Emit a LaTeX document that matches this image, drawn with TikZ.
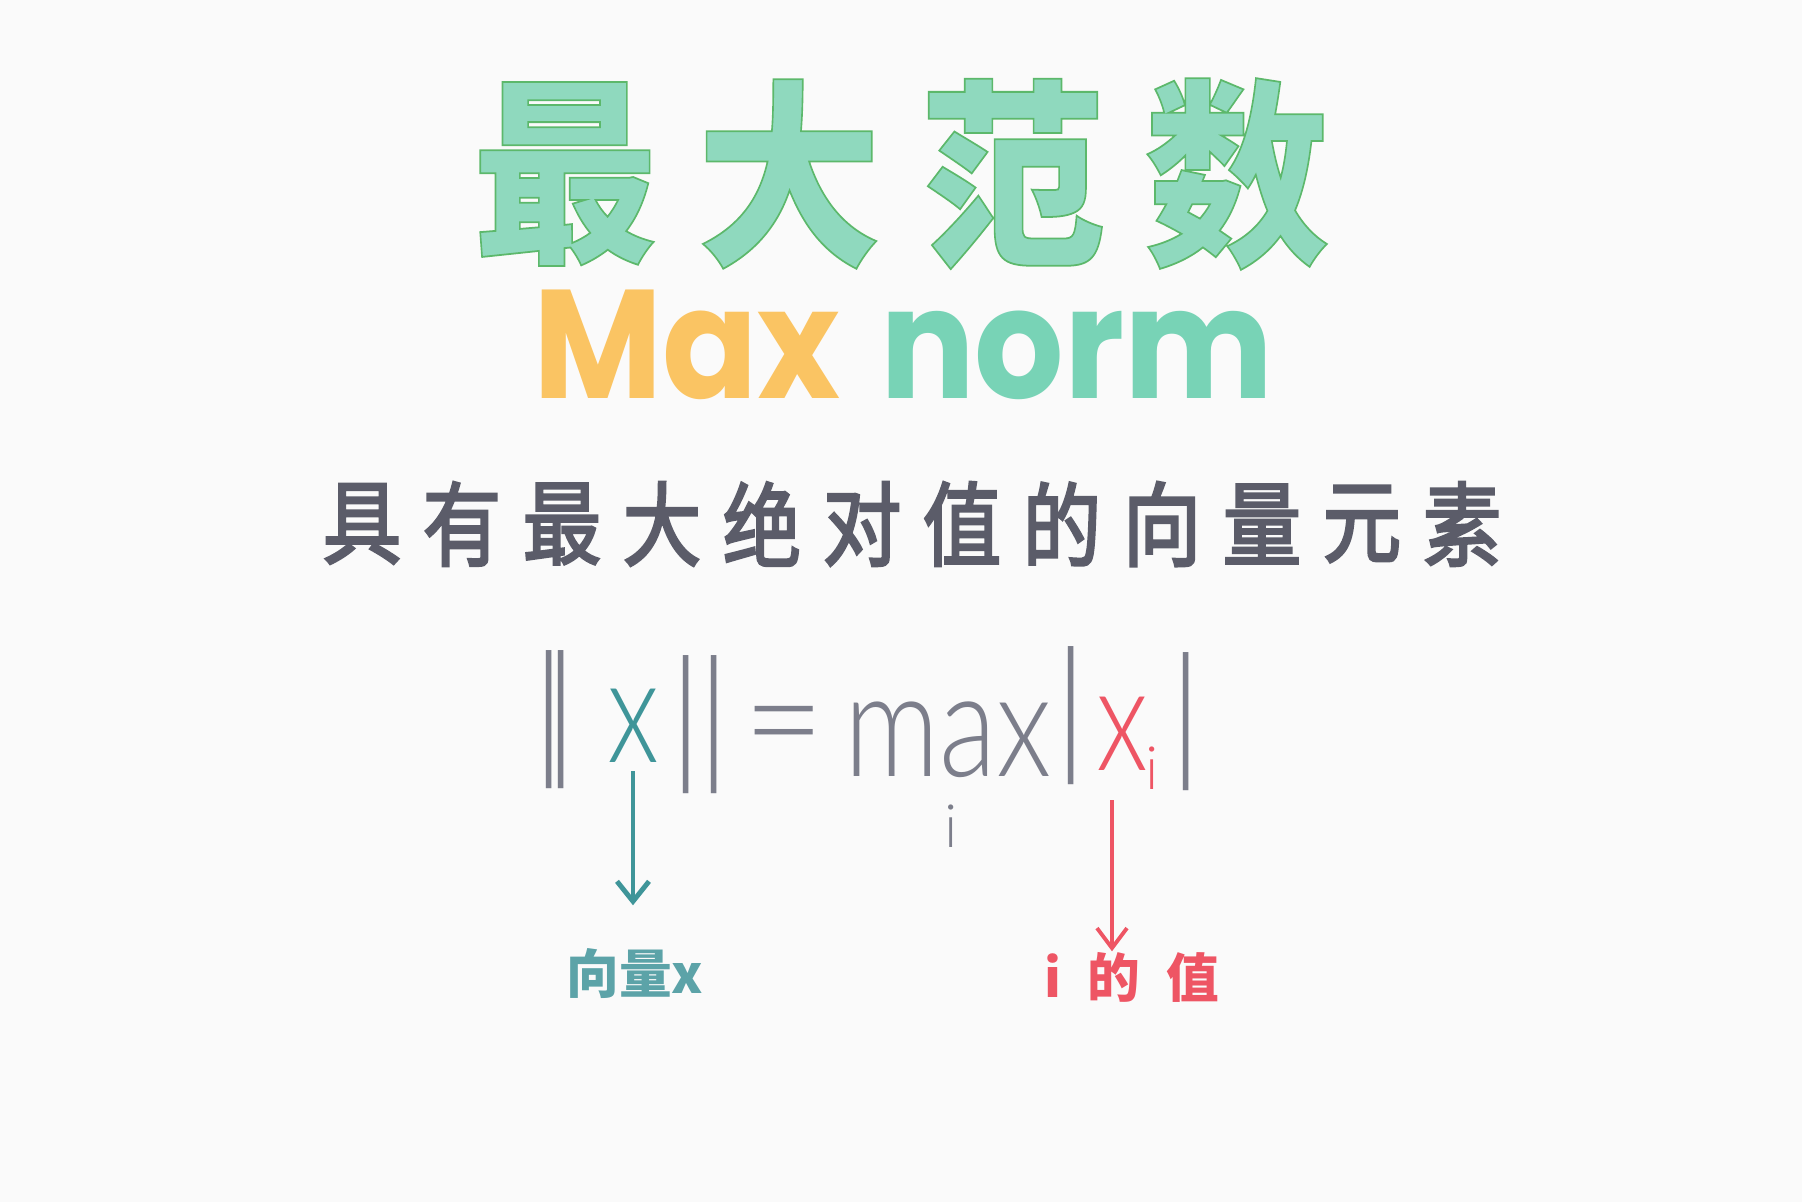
\documentclass[tikz,border=0pt]{standalone}
\usepackage{fontspec}
\usetikzlibrary{arrows.meta}
\newfontfamily\cjk{Noto Sans CJK SC}
\newfontfamily\cjksub{Noto Sans CJK SC}[FakeBold=3]
\newfontfamily\maxfont{Poppins}
\newfontfamily\handfont{Lato Light}
\definecolor{bgwhite}{HTML}{FAFAFA}
\definecolor{mintgreen}{HTML}{8FD9BE}
\definecolor{sunorange}{HTML}{FAC463}
\definecolor{normteal}{HTML}{78D3B6}
\definecolor{slategray}{HTML}{5B5C69}
\definecolor{pencilgray}{HTML}{7C7E8B}
\definecolor{vecteal}{HTML}{3F9599}
\definecolor{labelteal}{HTML}{5CA3A8}
\definecolor{idxred}{HTML}{EE5564}
% thin green outline round the title glyphs
\newcommand{\outlined}[1]{\special{pdf:literal direct 2 Tr 0.5 w 0.36 0.72 0.42 RG}#1\special{pdf:literal direct 0 Tr}}

\begin{document}
\begin{tikzpicture}[
    x=0.1mm, y=-0.1mm,
    title/.style={font=\cjk\bfseries\fontsize{57}{57}\selectfont, text=mintgreen, inner sep=0pt, xscale=0.92},
    maxword/.style={font=\maxfont\bfseries\fontsize{44}{44}\selectfont, inner sep=0pt, xscale=0.91},
    subtitle/.style={font=\cjksub\fontsize{26}{26}\selectfont, text=slategray, inner sep=0pt, xscale=0.86},
    hand/.style={font=\handfont\fontsize{42}{42}\selectfont, text=pencilgray, inner sep=0pt},
    handsub/.style={font=\handfont\fontsize{17}{17}\selectfont, text=pencilgray, inner sep=0pt},
    lbl/.style={font=\cjk\bfseries\fontsize{15}{15}\selectfont, inner sep=0pt},
    tarrow/.style={-{Straight Barb[length=2mm, width=3.2mm]}, line width=1.4pt, color=vecteal, shorten <=0.8mm, shorten >=4.3mm},
    rarrow/.style={-{Straight Barb[length=2mm, width=3mm]}, line width=1.1pt, color=idxred, shorten <=2.9mm}
]
% Background
\fill[bgwhite] (0,0) rectangle (1802,1202);

% Title
\foreach \ch [count=\i] in {最,大,范,数}
    \node[title] (t\i) at ({341+224*\i},174) {\outlined{\ch}};
\node[maxword, text=sunorange, anchor=base] (max) at (687,398) {Max};
\node[maxword, text=normteal, anchor=base] (norm) at (1077,398) {norm};

% Subtitle
\foreach \ch [count=\i] in {具,有,最,大,绝,对,值,的,向,量,元,素}
    \node[subtitle] (s\i) at ({262+100*\i},524) {\ch};

% Formula
\node[hand] (b1) at (549,720) {|};
\node[hand] (b2) at (561,720) {|};
\node[hand, text=vecteal, xscale=0.75] (xv) at (633,726) {x};
\node[hand] (b3) at (686,725) {|};
\node[hand] (b4) at (714,725) {|};
\node[hand, xscale=0.95] (eq) at (784,738) {=};
\node[hand, xscale=0.8] (mx) at (948,740) {max};
\node[handsub] (mi) at (951,826) {i};
\node[hand] (b5) at (1071,716) {|};
\node[hand, text=idxred, xscale=0.75] (xi) at (1122,734) {x};
\node[handsub, text=idxred] (si) at (1152,768) {i};
\node[hand] (b6) at (1186,722) {|};

% Labels
\node[lbl, text=labelteal] (lblx) at (635,974) {向量x};
\node[lbl, text=idxred] (lbli) at (1132,977) {i\enspace 的\enspace 值};

% Arrows
\draw[tarrow] (xv.south) -- (xv.south |- lblx.north);
\draw[rarrow] ([xshift=-1mm]xi.south) -- ([xshift=-1mm]xi.south |- lbli.north);
\end{tikzpicture}
\end{document}
